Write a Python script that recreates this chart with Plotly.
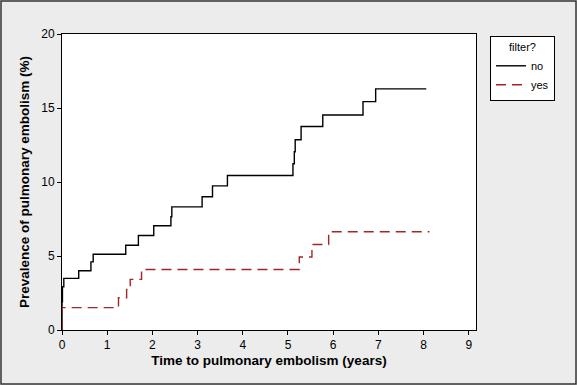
import plotly.graph_objects as go

# Data (cumulative prevalence, step curves)
times_no = [0, 0, 0.01, 0.04, 0.37, 0.64, 0.69, 1.41, 1.69, 2.03, 2.41, 2.43, 3.10, 3.33, 3.66, 5.11, 5.14, 5.16, 5.29, 5.77, 6.66, 6.94, 8.06]
prev_no = [0, 1.91, 2.92, 3.49, 4.0, 4.6, 5.12, 5.73, 6.39, 7.04, 7.65, 8.32, 9.0, 9.74, 10.44, 11.23, 12.04, 12.85, 13.75, 14.53, 15.43, 16.29, 16.29]

times_yes = [0, 0, 1.25, 1.43, 1.51, 1.76, 5.25, 5.53, 5.90, 8.13]
prev_yes = [0, 1.51, 2.18, 2.74, 3.42, 4.09, 4.93, 5.78, 6.64, 6.64]

x_ticks = [0, 1, 2, 3, 4, 5, 6, 7, 8, 9]
y_ticks = [0, 5, 10, 15, 20]

FONT = "Liberation Sans"

fig = go.Figure()
fig.add_trace(go.Scatter(x=times_no, y=prev_no, mode="lines", name="no",
                         line=dict(color="black", width=1.4, shape="hv")))
fig.add_trace(go.Scatter(x=times_yes, y=prev_yes, mode="lines", name="yes",
                         line=dict(color="#a32626", width=1.4, shape="hv", dash="10px,6px")))

W, H = 577, 385
L, R, T, B = 62, 101, 34, 55
pw, ph = W - L - R, H - T - B

fig.update_layout(
    width=W, height=H,
    margin=dict(l=L, r=R, t=T, b=B, autoexpand=False),
    paper_bgcolor="#ececec",
    plot_bgcolor="white",
    font=dict(family=FONT, size=12, color="black"),
    showlegend=True,
    legend=dict(
        x=(490 - L) / pw, y=(H - B - 36) / ph, xanchor="left", yanchor="top",
        bgcolor="white", bordercolor="black", borderwidth=1,
        font=dict(family=FONT, size=11, color="black"),
        title=dict(text="filter?", side="top center", font=dict(family=FONT, size=11, color="black")),
        itemwidth=30, tracegroupgap=0,
    ),
    xaxis=dict(
        range=[0, 9.16], tickmode="array", tickvals=x_ticks, automargin=False,
        showgrid=False, zeroline=False, showline=True, linecolor="black", linewidth=1,
        mirror=True, ticks="outside", ticklen=4, tickcolor="black",
        title=dict(text="<b>Time to pulmonary embolism (years)</b>", font=dict(family=FONT, size=13.5), standoff=4),
        tickfont=dict(family=FONT, size=12),
    ),
    yaxis=dict(
        range=[0, 20], tickmode="array", tickvals=y_ticks, automargin=False,
        showgrid=False, zeroline=False, showline=True, linecolor="black", linewidth=1,
        mirror=True, ticks="outside", ticklen=4, tickcolor="black",
        title=dict(text="<b>Prevalence of pulmonary embolism (%)</b>", font=dict(family=FONT, size=13.5), standoff=8),
        tickfont=dict(family=FONT, size=12),
    ),
    shapes=[dict(type="rect", xref="paper", yref="paper",
                 x0=(1 - L) / pw, x1=(W - 1 - L) / pw,
                 y0=(H - B - (H - 1)) / ph, y1=(H - B - 1) / ph,
                 line=dict(color="#333333", width=1.5), fillcolor="rgba(0,0,0,0)", layer="below")],
)

fig.write_html("out.html", config={"displayModeBar": False},
               post_script="document.body.style.margin='0';document.body.style.overflow='hidden';")
